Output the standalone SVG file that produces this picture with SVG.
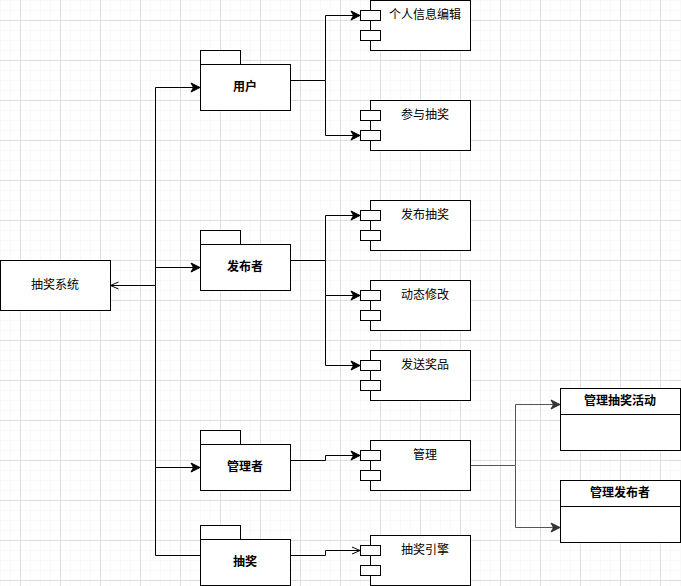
<svg xmlns="http://www.w3.org/2000/svg" width="681" height="586" viewBox="0 0 681 586">
<defs>
<pattern id="minor" width="10" height="10" patternUnits="userSpaceOnUse">
<path d="M0 0H10M0 0V10" fill="none" stroke="#f3f3f3" stroke-width="1"/>
</pattern>
<pattern id="major" x="20" y="20" width="40" height="40" patternUnits="userSpaceOnUse">
<path d="M0.5 0V40M0 0.5H40" fill="none" stroke="#dedede" stroke-width="1"/>
</pattern>
<marker id="arr" markerUnits="userSpaceOnUse" markerWidth="12" markerHeight="12" refX="10" refY="6" orient="auto">
<path d="M10 6L1 1.5L3.5 6L1 10.5Z" fill="#000" stroke="#000" stroke-width="1"/>
</marker>
<marker id="arrg" markerUnits="userSpaceOnUse" markerWidth="12" markerHeight="12" refX="10" refY="6" orient="auto">
<path d="M10 6L1 1.5L3.5 6L1 10.5Z" fill="#333" stroke="#333" stroke-width="1"/>
</marker>
<marker id="open" markerUnits="userSpaceOnUse" markerWidth="12" markerHeight="12" refX="10" refY="6" orient="auto">
<path d="M2 2.5L10 6L2 9.5" fill="none" stroke="#000" stroke-width="1"/>
</marker>
</defs>
<style>
.s{fill:#fff;stroke:#000;stroke-width:1}
.t{font-family:"Liberation Sans","Noto Sans CJK SC",sans-serif;font-size:12px;fill:#000;text-anchor:middle;dominant-baseline:central}
.b{font-weight:bold}
.c{fill:none;stroke:#000;stroke-width:1}
.g{fill:none;stroke:#555;stroke-width:1}
</style>
<rect width="681" height="586" fill="#fff"/>
<rect width="681" height="586" fill="url(#minor)"/>
<rect width="681" height="586" fill="url(#major)"/>

<g id="connectors">
<path class="c" d="M155.5 285.5H110.5" marker-end="url(#open)"/>
<path class="c" d="M155.5 285.5V87.5H200" marker-end="url(#arr)"/>
<path class="c" d="M155.5 267.5H200" marker-end="url(#arr)"/>
<path class="c" d="M155.5 285.5V467.5H200" marker-end="url(#arr)"/>
<path class="c" d="M155.5 467.5V555.5H200"/>
<path class="c" d="M290 80.5H325.5V15.5H360" marker-end="url(#arr)"/>
<path class="c" d="M325.5 80.5V135.5H360" marker-end="url(#arr)"/>
<path class="c" d="M290 260.5H325.5V215.5H360" marker-end="url(#arr)"/>
<path class="c" d="M325.5 260.5V295.5H360" marker-end="url(#arr)"/>
<path class="c" d="M325.5 295.5V365.5H360" marker-end="url(#arr)"/>
<path class="c" d="M290 460.5H325.5V455.5H360" marker-end="url(#arr)"/>
<path class="c" d="M290 555.5H325.5V550.5H360" marker-end="url(#open)"/>
<path class="g" d="M470 465.5H515.5V404.5H560" marker-end="url(#arrg)"/>
<path class="g" d="M515.5 465.5V527.5H560" marker-end="url(#arrg)"/>
</g>

<g id="system">
<rect class="s" x="0.5" y="260.5" width="110" height="50"/>
<text class="t" x="55" y="285">抽奖系统</text>
</g>

<g id="pkg-user">
<rect class="s" x="200.5" y="50.5" width="40" height="14"/>
<rect class="s" x="200.5" y="64.5" width="90" height="46"/>
<text class="t b" x="245" y="87">用户</text>
</g>
<g id="pkg-publisher">
<rect class="s" x="200.5" y="230.5" width="40" height="14"/>
<rect class="s" x="200.5" y="244.5" width="90" height="46"/>
<text class="t b" x="245" y="267">发布者</text>
</g>
<g id="pkg-admin">
<rect class="s" x="200.5" y="430.5" width="40" height="14"/>
<rect class="s" x="200.5" y="444.5" width="90" height="46"/>
<text class="t b" x="245" y="467">管理者</text>
</g>
<g id="pkg-lottery">
<rect class="s" x="200.5" y="525.5" width="40" height="14"/>
<rect class="s" x="200.5" y="539.5" width="90" height="46"/>
<text class="t b" x="245" y="562">抽奖</text>
</g>

<g id="comp-profile">
<rect class="s" x="370.5" y="0.5" width="100" height="50"/>
<rect class="s" x="360.5" y="10.5" width="20" height="10"/>
<rect class="s" x="360.5" y="30.5" width="20" height="10"/>
<text class="t" x="425" y="15">个人信息编辑</text>
</g>
<g id="comp-join">
<rect class="s" x="370.5" y="100.5" width="100" height="50"/>
<rect class="s" x="360.5" y="110.5" width="20" height="10"/>
<rect class="s" x="360.5" y="130.5" width="20" height="10"/>
<text class="t" x="425" y="115">参与抽奖</text>
</g>
<g id="comp-publish">
<rect class="s" x="370.5" y="200.5" width="100" height="50"/>
<rect class="s" x="360.5" y="210.5" width="20" height="10"/>
<rect class="s" x="360.5" y="230.5" width="20" height="10"/>
<text class="t" x="425" y="215">发布抽奖</text>
</g>
<g id="comp-modify">
<rect class="s" x="370.5" y="280.5" width="100" height="50"/>
<rect class="s" x="360.5" y="290.5" width="20" height="10"/>
<rect class="s" x="360.5" y="310.5" width="20" height="10"/>
<text class="t" x="425" y="295">动态修改</text>
</g>
<g id="comp-prize">
<rect class="s" x="370.5" y="350.5" width="100" height="50"/>
<rect class="s" x="360.5" y="360.5" width="20" height="10"/>
<rect class="s" x="360.5" y="380.5" width="20" height="10"/>
<text class="t" x="425" y="365">发送奖品</text>
</g>
<g id="comp-manage">
<rect class="s" x="370.5" y="440.5" width="100" height="50"/>
<rect class="s" x="360.5" y="450.5" width="20" height="10"/>
<rect class="s" x="360.5" y="470.5" width="20" height="10"/>
<text class="t" x="425" y="455">管理</text>
</g>
<g id="comp-engine">
<rect class="s" x="370.5" y="535.5" width="100" height="50"/>
<rect class="s" x="360.5" y="545.5" width="20" height="10"/>
<rect class="s" x="360.5" y="565.5" width="20" height="10"/>
<text class="t" x="425" y="550">抽奖引擎</text>
</g>

<g id="class-activity">
<rect class="s" x="560.5" y="388.5" width="120" height="62"/>
<path class="c" d="M560.5 414.5H680.5"/>
<text class="t b" x="620" y="401">管理抽奖活动</text>
</g>
<g id="class-publisher">
<rect class="s" x="560.5" y="480.5" width="120" height="62"/>
<path class="c" d="M560.5 506.5H680.5"/>
<text class="t b" x="620" y="493">管理发布者</text>
</g>
</svg>
